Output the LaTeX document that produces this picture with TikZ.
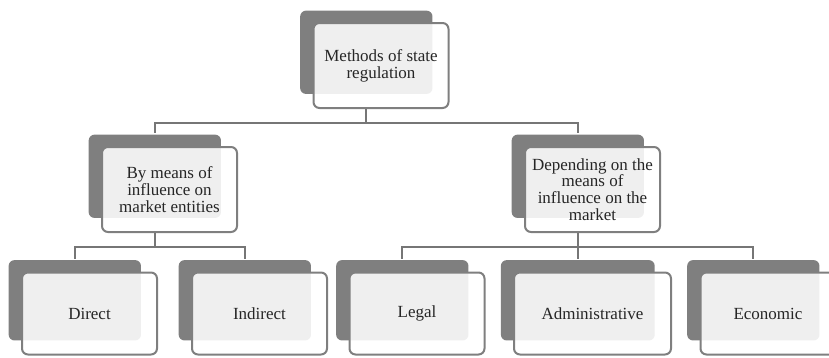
\documentclass[tikz,border=0pt]{standalone}
\usepackage{fontspec}
\setmainfont{Liberation Serif}
\usetikzlibrary{shadows}

\definecolor{boxgray}{RGB}{127,127,127}
\definecolor{linegray}{RGB}{118,118,118}

\begin{document}
\begin{tikzpicture}[x=1pt,y=1pt,
      level distance=124pt,
      level 1/.style={sibling distance=423pt},
      level 2/.style={sibling distance=175.5pt,
        every node/.append style={minimum height=82pt}},
      every node/.style={rectangle,rounded corners=6pt,draw=boxgray,line width=2pt,
        fill=white,fill opacity=0.88,text opacity=1,text=black!85,
        minimum width=135pt,minimum height=85pt,inner sep=0pt,align=center,
        font=\fontsize{17pt}{16.8pt}\selectfont,
        general shadow={fill=boxgray,draw=none,fill opacity=1,
          shadow xshift=-15pt,shadow yshift=13.5pt,shadow scale=0.98}},
      edge from parent/.style={draw=linegray,line width=2pt},
      edge from parent path={([xshift=-15pt]\tikzparentnode.south)
        -- ([xshift=-15pt,yshift=-14pt]\tikzparentnode.south)
        -| ([xshift=-15pt,yshift=13pt]\tikzchildnode.north)}]
    \useasboundingbox (0,0) rectangle (829,-357);
    \clip (0,0) rectangle (829,-357);
    \node (methods) at (381,-65.5) {Methods of state\\regulation}
    child {
      node (means) {By means of\\influence on\\market entities}
      child[sibling distance=170pt,xshift=5pt] {
        node (direct) {Direct}
      }
      child[sibling distance=170pt,xshift=5pt] {
        node (indirect) {Indirect}
      }
    }
    child {
      node (depending) {Depending on the\\means of\\influence on the\\market}
      child {
        node (legal) {Legal}
      }
      child {
        node (admin) [minimum width=157pt] {Administrative}
      }
      child {
        node (economic) {Economic}
      }
    };
  \end{tikzpicture}
\end{document}
